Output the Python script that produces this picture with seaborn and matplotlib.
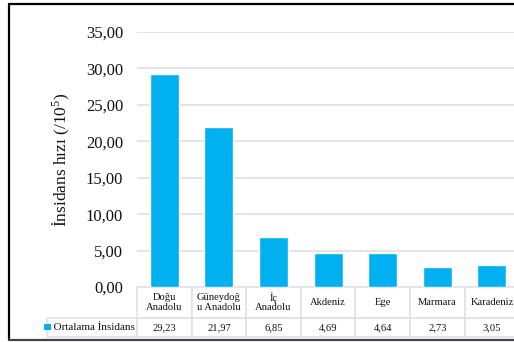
import matplotlib
matplotlib.use("Agg")
import matplotlib.pyplot as plt
import seaborn as sns
from matplotlib.ticker import FuncFormatter, MultipleLocator
from matplotlib.lines import Line2D
from matplotlib.patches import Rectangle

categories = ["Doğu\nAnadolu", "Güneydoğ\nu Anadolu", "İç\nAnadolu", "Akdeniz", "Ege", "Marmara", "Karadeniz"]
values = [29.23, 21.97, 6.85, 4.69, 4.64, 2.73, 3.05]
series_name = "Ortalama İnsidans"
y_label = "İnsidans hızı (/10$^{5}$)"

BAR = "#00B0F0"
GRID = "#dfe2e7"

sns.set_theme(style="white")
plt.rcParams["font.family"] = ["Liberation Serif", "DejaVu Serif"]
plt.rcParams["mathtext.fontset"] = "custom"
plt.rcParams["mathtext.rm"] = "Liberation Serif"
plt.rcParams["mathtext.it"] = "Liberation Serif:italic"

W, H = 514, 342
fig = plt.figure(figsize=(W / 100, H / 100), dpi=100)
fig.patch.set_facecolor("white")

colw = 54.6
left_px, bottom_px, top_px = 137, 287, 32
ax_w = 7 * colw
ax_h = bottom_px - top_px
ax = fig.add_axes([left_px / W, (H - bottom_px) / H, ax_w / W, ax_h / H])

sns.barplot(x=list(range(len(values))), y=values, color=BAR, saturation=1, width=0.53, ax=ax, zorder=3)
ax.set_ylim(0, 35)
ax.set_xlim(-0.5, len(values) - 0.5)
ax.yaxis.set_major_locator(MultipleLocator(5))
ax.yaxis.set_major_formatter(FuncFormatter(lambda v, p: f"{v:.2f}".replace(".", ",")))
ax.grid(axis="y", color=GRID, linewidth=1.3, zorder=0)
ax.set_axisbelow(True)
for s in ax.spines.values():
    s.set_visible(False)
ax.tick_params(axis="y", length=0, pad=10, labelsize=12, labelcolor="#111111")
ax.set_xticks([])
ax.set_xlabel("")
ax.set_ylabel(y_label, fontsize=12.5, color="#111111", labelpad=10)

# data table
lab_w = 95
hdr_h, val_h = 31, 19
cell_text = [[f"{v:.2f}".replace(".", ",") for v in values]]
tab = ax.table(cellText=cell_text, rowLabels=["  " + series_name], colLabels=categories,
               cellLoc="center", rowLoc="left",
               bbox=[0, -(hdr_h + val_h) / ax_h, 1, (hdr_h + val_h) / ax_h])
tab.auto_set_font_size(False)
for (r, c), cell in tab.get_celld().items():
    cell.set_edgecolor(GRID)
    cell.set_linewidth(1.2)
    cell.set_clip_on(False)
    txt = cell.get_text()
    txt.set_fontsize(8 if c == -1 else 7.6)
    txt.set_color("#111111")
    txt.set_linespacing(1.0)
    cell.PAD = 0.02
    if c == -1:
        cell.set_width(lab_w / ax_w)
    else:
        cell.set_width(1 / 7)
    cell.set_height((hdr_h if r == 0 else val_h) / ax_h)
tab.set_clip_on(False)

# legend key square
fig.add_artist(Rectangle((44 / W, (H - 330) / H), 6.5 / W, 6.5 / H, transform=fig.transFigure,
                         facecolor=BAR, edgecolor="none", zorder=5))

# figure border
fig.add_artist(Line2D([8.5 / W, 8.5 / W], [(H - 340) / H, (H - 3.5) / H], color="black", linewidth=1.6, transform=fig.transFigure))
fig.add_artist(Line2D([8.5 / W, 1.0], [(H - 3.5) / H, (H - 3.5) / H], color="black", linewidth=1.6, transform=fig.transFigure))
fig.add_artist(Line2D([8.5 / W, 1.0], [(H - 340) / H, (H - 340) / H], color="#444444", linewidth=1.6, transform=fig.transFigure))

fig.savefig("out.png", dpi=100)
